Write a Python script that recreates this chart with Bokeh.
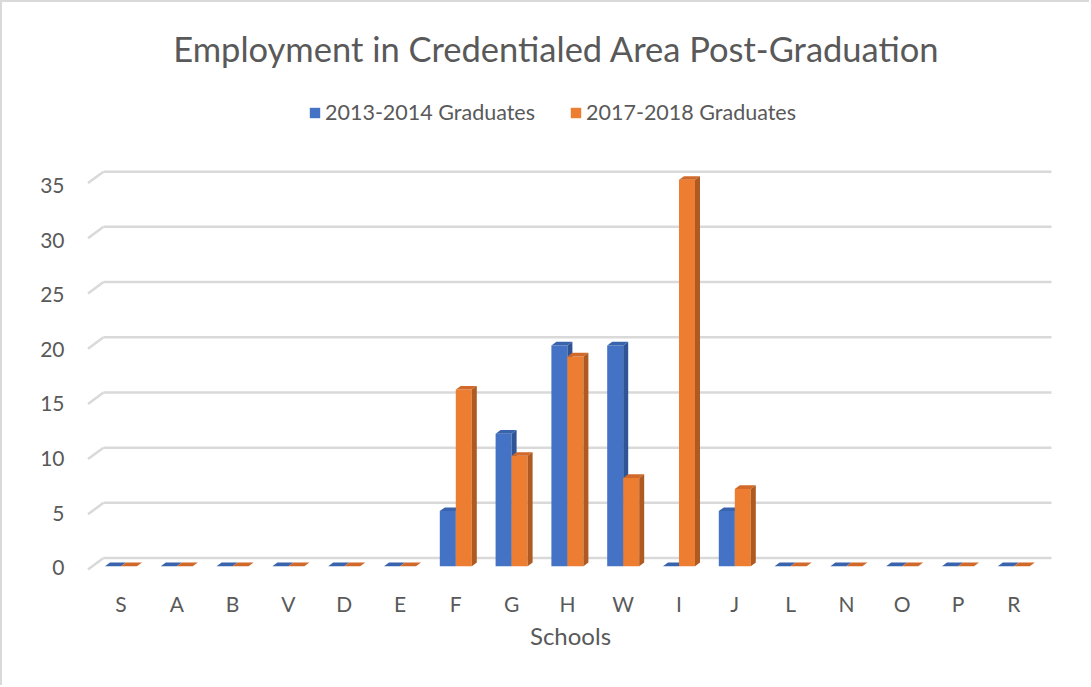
from bokeh.plotting import figure
from bokeh.models import (ColumnDataSource, Range1d, LinearAxis, FixedTicker, Label,
                          Legend, LegendItem)
from bokeh.embed import file_html
from bokeh.resources import INLINE

# ---- data ----
schools = ["S", "A", "B", "V", "D", "E", "F", "G", "H", "W", "I", "J", "L", "N", "O", "P", "R"]
grads_2013_2014 = [0, 0, 0, 0, 0, 0, 5, 12, 20, 20, 0, 5, 0, 0, 0, 0, 0]
grads_2017_2018 = [0, 0, 0, 0, 0, 0, 16, 10, 19, 8, 35, 7, 0, 0, 0, 0, 0]
y_ticks = [0, 5, 10, 15, 20, 25, 30, 35]
series_names = ["2013-2014 Graduates", "2017-2018 Graduates"]

TXT = "#595959"
FONT = "Lato"

# page geometry (pixels in the 1091x687 page)
OFF = 2                    # css border width
W, H = 1091 - OFF, 687 - OFF
F_L, F_R, F_T, F_B = 86, 1054, 8, 580          # frame, page coords
X0, DXC = 120.5, 55.8                            # category 0 centre, spacing
Y0, DYV = 565.7, 11.04                           # value 0 baseline, px per unit

x_start = (F_L - X0) / DXC
x_end = (F_R - X0) / DXC
y_start = (Y0 - F_B) / DYV
y_end = (Y0 - F_T) / DYV

def px2x(px):
    return (px - X0) / DXC

def px2y(py):
    return (Y0 - py) / DYV

p = figure(width=W, height=H, output_backend="svg", toolbar_location=None,
           x_range=Range1d(x_start, x_end), y_range=Range1d(y_start, y_end),
           y_axis_location=None, min_border_left=F_L - OFF, min_border_right=(1091 - F_R),
           min_border_top=F_T - OFF, min_border_bottom=(687 - F_B),
           background_fill_color="white", border_fill_color="white",
           outline_line_color=None)
p.styles = {"border-left": "2px solid #D9D9D9", "border-top": "2px solid #D9D9D9"}
p.xgrid.visible = False
p.ygrid.visible = False

# ---- 3D style gridlines ----
back_off = 0.74
front_off = -0.30
gx0 = px2x(103)
gx_front = px2x(87.5)
gx1 = px2x(1051)
p.segment(x0=[gx0] * len(y_ticks), y0=[v + back_off for v in y_ticks],
          x1=[gx1] * len(y_ticks), y1=[v + back_off for v in y_ticks],
          line_color="#D9D9D9", line_width=2.5)
p.segment(x0=[gx_front] * len(y_ticks), y0=[v + front_off for v in y_ticks],
          x1=[gx0] * len(y_ticks), y1=[v + back_off for v in y_ticks],
          line_color="#D9D9D9", line_width=2.5)

# ---- 3D bars ----
bw = 16 / DXC
ddx = 5 / DXC
ddy = 3.6 / DYV

def draw_series(values, shift, front, top, side):
    left = [i + shift for i in range(len(values))]
    right = [l + bw for l in left]
    src = ColumnDataSource(dict(left=left, right=right, bottom=[0] * len(values), top=values))
    r = p.quad(left="left", right="right", bottom="bottom", top="top", source=src,
               fill_color=front, line_color=None)
    txs, tys, sxs, sys_ = [], [], [], []
    for l, rr, v in zip(left, right, values):
        txs.append([l, rr, rr + ddx, l + ddx])
        tys.append([v, v, v + ddy, v + ddy])
        sxs.append([rr, rr, rr + ddx, rr + ddx])
        sys_.append([0, v, v + ddy, ddy])
    p.patches(xs=txs, ys=tys, fill_color=top, line_color=None)
    p.patches(xs=sxs, ys=sys_, fill_color=side, line_color=None)
    return r

r1 = draw_series(grads_2013_2014, -bw, "#4472C4", "#3A63AD", "#2F5597")
r2 = draw_series(grads_2017_2018, 0.0, "#ED7D31", "#D0692A", "#AE5A21")

# ---- axes ----
xa = p.xaxis[0]
xa.ticker = FixedTicker(ticks=list(range(len(schools))))
xa.major_label_overrides = {i: s for i, s in enumerate(schools)}
xa.axis_line_color = None
xa.major_tick_line_color = None
xa.minor_tick_line_color = None
xa.major_label_text_font = FONT
xa.major_label_text_font_size = "21px"
xa.major_label_text_color = TXT
xa.major_label_standoff = 4
xa.axis_label = "Schools"
xa.axis_label_text_font = FONT
xa.axis_label_text_font_size = "24px"
xa.axis_label_text_font_style = "normal"
xa.axis_label_text_color = TXT
xa.axis_label_standoff = 2

# label range (labels sit at the front plane)
LY0, LDY = 567.3, 10.923
p.extra_y_ranges = {"lab": Range1d((LY0 - F_B) / LDY, (LY0 - F_T) / LDY)}
ya = LinearAxis(y_range_name="lab", ticker=FixedTicker(ticks=y_ticks))
ya.axis_line_color = None
ya.major_tick_line_color = None
ya.minor_tick_line_color = None
ya.major_label_text_font = FONT
ya.major_label_text_font_size = "21px"
ya.major_label_text_color = TXT
ya.major_label_standoff = 16
p.add_layout(ya, "left")

# ---- title ----
p.add_layout(Label(x=px2x(556), y=px2y(48), text="Employment in Credentialed Area Post-Graduation",
                   text_font=FONT, text_font_size="34.5px", text_color=TXT,
                   text_align="center", text_baseline="middle"))

# ---- legend ----
leg = Legend(items=[LegendItem(label=series_names[0], renderers=[r1]),
                    LegendItem(label=series_names[1], renderers=[r2])],
             orientation="horizontal", location=(308 - F_L, F_B - 125),
             label_text_font=FONT, label_text_font_size="21.5px", label_text_color=TXT,
             glyph_width=13, glyph_height=13, label_standoff=4, spacing=34,
             padding=0, margin=0, border_line_color=None, background_fill_alpha=0)
p.add_layout(leg)

open("out.html", "w").write(file_html(p, INLINE))
